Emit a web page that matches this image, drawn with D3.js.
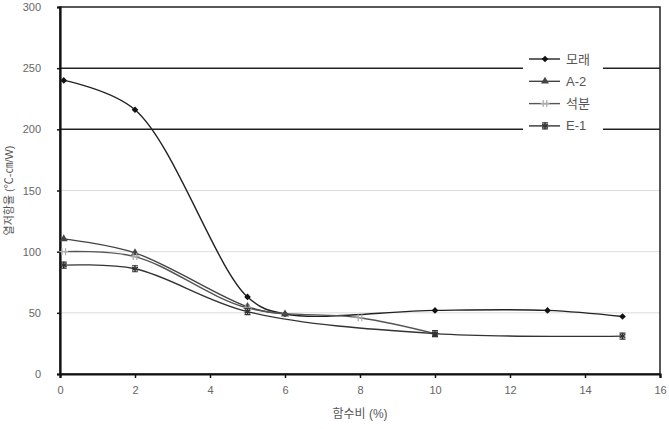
<!DOCTYPE html>
<html>
<head>
<meta charset="utf-8">
<script src="https://cdn.jsdelivr.net/npm/d3@7"></script>
<style>
  body { margin: 0; background: #fff; }
  text { font-family: "Liberation Sans", "Noto Sans CJK KR", sans-serif; }
</style>
</head>
<body>
<div id="chart"></div>
<script>
// data
const seriesNames = ["모래", "A-2", "석분", "E-1"];
const sandX = [0.1, 2, 5, 6, 10, 13, 15];
const sandY = [240, 216, 63, 49, 52, 52, 47];
const a2X = [0.1, 2, 5, 6];
const a2Y = [110.5, 99, 55, 49];
const stoneX = [0.1, 2, 5, 8, 10];
const stoneY = [100, 96, 54, 46, 33];
const e1X = [0.1, 2, 5, 10, 15];
const e1Y = [89, 86, 51, 33, 31];
const xTicks = [0, 2, 4, 6, 8, 10, 12, 14, 16];
const yTicks = [0, 50, 100, 150, 200, 250, 300];
const darkGrid = [200, 250];

const width = 669, height = 429;
const margin = { top: 7, right: 9, bottom: 55, left: 60 };

const x = d3.scaleLinear().domain([0, 16]).range([margin.left, width - margin.right]);
const y = d3.scaleLinear().domain([0, 300]).range([height - margin.bottom, margin.top]);

const svg = d3.select("#chart").append("svg")
  .attr("width", width).attr("height", height);

// grid
svg.append("g")
  .selectAll("line")
  .data(yTicks.filter(d => d > 0 && d < 300))
  .join("line")
  .attr("x1", x(0)).attr("x2", x(16))
  .attr("y1", d => y(d)).attr("y2", d => y(d))
  .attr("stroke", d => darkGrid.includes(d) ? "#222" : "#dcdcdc")
  .attr("stroke-width", d => darkGrid.includes(d) ? 1.5 : 1);

// frame
svg.append("rect")
  .attr("x", x(0)).attr("y", y(300))
  .attr("width", x(16) - x(0)).attr("height", y(0) - y(300))
  .attr("fill", "none").attr("stroke", "#222").attr("stroke-width", 1.5);

// axes
const xAxis = svg.append("g")
  .attr("transform", `translate(0,${y(0)})`)
  .call(d3.axisBottom(x).tickValues(xTicks).tickSize(4).tickPadding(8));
const yAxis = svg.append("g")
  .attr("transform", `translate(${x(0)},0)`)
  .call(d3.axisLeft(y).tickValues(yTicks).tickSize(3).tickPadding(16));
[xAxis, yAxis].forEach(g => {
  g.select(".domain").attr("stroke", "#111").attr("stroke-width", 2.2);
  g.selectAll(".tick line").attr("stroke", "#111").attr("stroke-width", 1.5);
  g.selectAll("text").attr("fill", "#666").style("font-size", "11px");
});

// axis titles
svg.append("text")
  .attr("x", (x(0) + x(16)) / 2).attr("y", 418)
  .attr("text-anchor", "middle").attr("fill", "#555")
  .style("font-size", "12px").text("함수비 (%)");
svg.append("text")
  .attr("transform", `translate(13,${(y(0) + y(300)) / 2}) rotate(-90)`)
  .attr("text-anchor", "middle").attr("fill", "#555")
  .style("font-size", "11px").text("열저항율 (℃-㎝/W)");

// series
const series = [
  { name: seriesNames[0], xs: sandX, ys: sandY, color: "#111", line: "#222", symbol: "diamond", size: 22 },
  { name: seriesNames[1], xs: a2X, ys: a2Y, color: "#444", line: "#444", symbol: d3.symbolTriangle, size: 28 },
  { name: seriesNames[2], xs: stoneX, ys: stoneY, color: "#aaa", line: "#555", symbol: "bars", size: 0 },
  { name: seriesNames[3], xs: e1X, ys: e1Y, color: "#333", line: "#333", symbol: d3.symbolAsterisk, size: 30 }
];

const line = d3.line().curve(d3.curveCatmullRom.alpha(0.5))
  .x(d => x(d[0])).y(d => y(d[1]));

function marker(g, s) {
  if (s.symbol === "bars") {
    g.append("path")
      .attr("d", "M-4.5,0H4.5M-1.8,-3.5V3.5M1.8,-3.5V3.5")
      .attr("stroke", s.color).attr("stroke-width", 1.2).attr("fill", "none");
  } else if (s.symbol === "diamond") {
    g.append("path")
      .attr("d", d3.symbol(d3.symbolSquare, s.size)())
      .attr("transform", "rotate(45)")
      .attr("fill", s.color);
  } else if (s.symbol === d3.symbolAsterisk) {
    g.append("path")
      .attr("d", d3.symbol(d3.symbolAsterisk, s.size)())
      .attr("stroke", s.color).attr("stroke-width", 1.5).attr("fill", "none");
    g.append("path")
      .attr("d", "M-3,-3H3M-3,3H3")
      .attr("stroke", s.color).attr("stroke-width", 1.1);
  } else {
    g.append("path")
      .attr("d", d3.symbol(s.symbol, s.size)())
      .attr("fill", s.color);
  }
}

series.forEach(s => {
  const pts = s.xs.map((v, i) => [v, s.ys[i]]);
  svg.append("path")
    .datum(pts)
    .attr("d", line)
    .attr("fill", "none")
    .attr("stroke", s.line)
    .attr("stroke-width", 1.4);
  svg.append("g")
    .selectAll("g")
    .data(pts)
    .join("g")
    .attr("transform", d => `translate(${x(d[0])},${y(d[1])})`)
    .each(function () { marker(d3.select(this), s); });
});

// legend
const legend = svg.append("g").attr("transform", "translate(523,49)");
legend.append("rect")
  .attr("width", 80).attr("height", 88)
  .attr("fill", "#fff");
series.forEach((s, i) => {
  const row = legend.append("g").attr("transform", `translate(0,${10 + i * 22.3})`);
  row.append("line")
    .attr("x1", 6).attr("x2", 37)
    .attr("stroke", s.line).attr("stroke-width", 1.4);
  marker(row.append("g").attr("transform", "translate(22,0)"), s);
  row.append("text")
    .attr("x", 43).attr("dy", "0.35em")
    .attr("fill", "#555").style("font-size", "13px")
    .text(s.name);
});
</script>
</body>
</html>
